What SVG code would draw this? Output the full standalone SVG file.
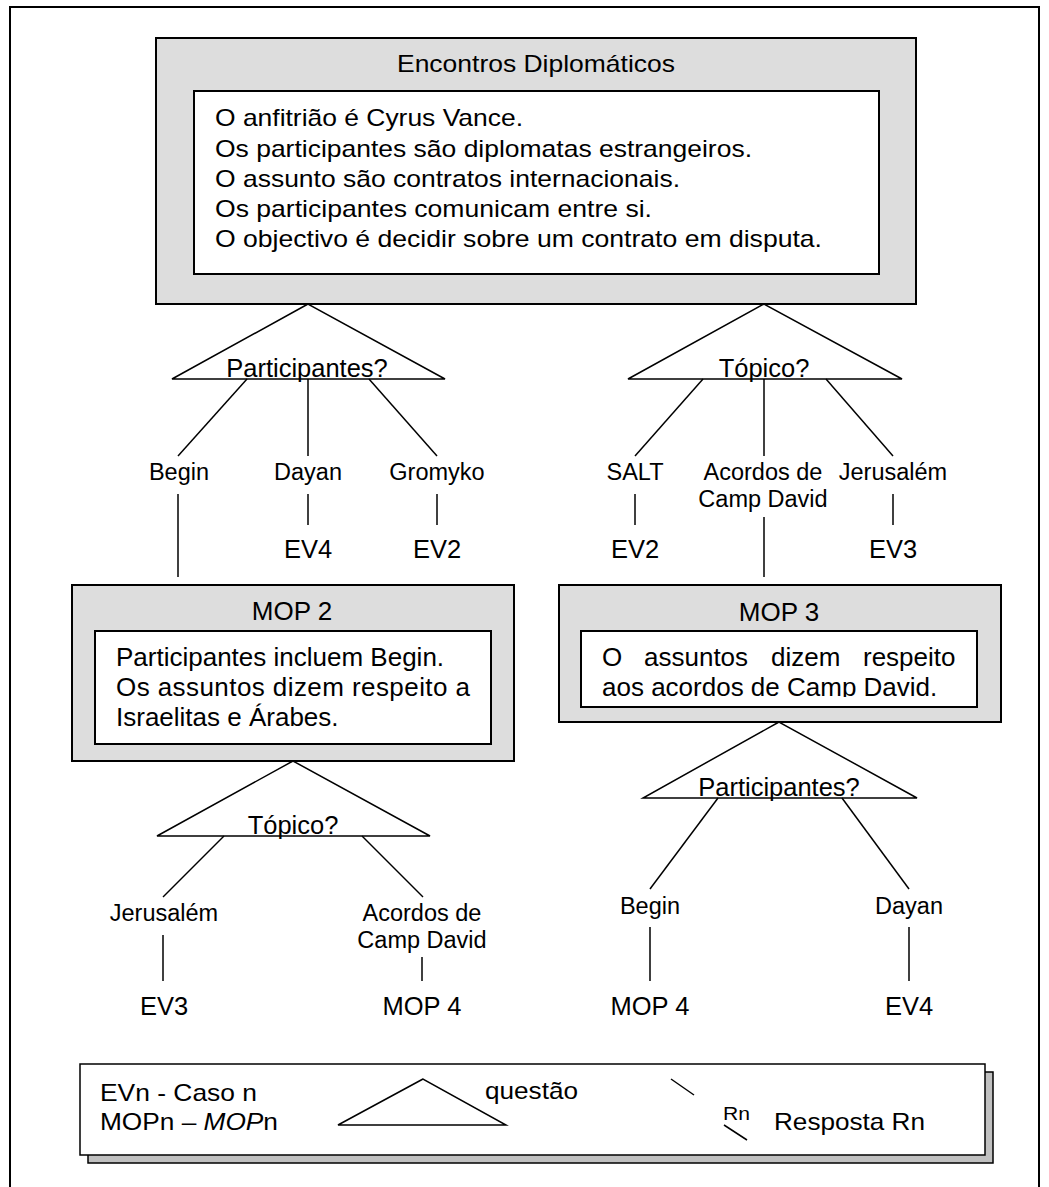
<svg xmlns="http://www.w3.org/2000/svg" width="1049" height="1187" viewBox="0 0 1049 1187">
  <style>
    text { font-family: "Liberation Sans", Arial, sans-serif; fill: #000; }
    .frame { fill: #fff; stroke: #000; stroke-width: 2; }
    .mop { fill: #dddddd; stroke: #000; stroke-width: 2; }
    .inner { fill: #fff; stroke: #000; stroke-width: 2; }
    .q { fill: #fff; stroke: #000; stroke-width: 1.5; stroke-linejoin: miter; }
    .link { stroke: #000; stroke-width: 1.5; fill: none; }
    .body { font-size: 24px; }
    .mtext { font-size: 26px; }
    .title { font-size: 26px; text-anchor: middle; }
    .qlabel { font-size: 25.5px; text-anchor: middle; }
    .ans { font-size: 23.5px; text-anchor: middle; }
    .leaf { font-size: 25.5px; text-anchor: middle; }
    .shadow { fill: #c0c0c0; stroke: #000; stroke-width: 1.5; }
  </style>
  <defs>
    <clipPath id="mop3-clip">
      <rect x="581" y="631" width="396" height="66"/>
    </clipPath>
  </defs>

  <!-- page frame -->
  <rect id="frame" class="frame" x="10" y="7" width="1029" height="1200"/>

  <!-- root MOP -->
  <g id="node-encontros">
    <rect class="mop" x="156" y="38" width="760" height="266"/>
    <text class="body" x="536" y="72" text-anchor="middle" textLength="278" lengthAdjust="spacingAndGlyphs">Encontros Diplomáticos</text>
    <rect class="inner" x="194" y="91" width="685" height="183"/>
    <text class="body" x="215" y="126" textLength="308" lengthAdjust="spacingAndGlyphs">O anfitrião é Cyrus Vance.</text>
    <text class="body" x="215" y="157" textLength="537" lengthAdjust="spacingAndGlyphs">Os participantes são diplomatas estrangeiros.</text>
    <text class="body" x="215" y="187" textLength="465" lengthAdjust="spacingAndGlyphs">O assunto são contratos internacionais.</text>
    <text class="body" x="215" y="217" textLength="437" lengthAdjust="spacingAndGlyphs">Os participantes comunicam entre si.</text>
    <text class="body" x="215" y="247" textLength="607" lengthAdjust="spacingAndGlyphs">O objectivo é decidir sobre um contrato em disputa.</text>
  </g>

  <!-- question: Participantes? (root) -->
  <g id="q-root-participantes">
    <polygon class="q" points="308,304 172,379 445,379"/>
    <text class="qlabel" x="307" y="377">Participantes?</text>
  </g>

  <!-- question: Tópico? (root) -->
  <g id="q-root-topico">
    <polygon class="q" points="764,304 628,379 902,379"/>
    <text class="qlabel" x="764" y="377">Tópico?</text>
  </g>

  <!-- answers and leaves under the root -->
  <g id="a-begin"><text class="ans" x="179" y="480">Begin</text></g>
  <g id="a-dayan"><text class="ans" x="308" y="480">Dayan</text></g>
  <g id="a-gromyko"><text class="ans" x="437" y="480">Gromyko</text></g>
  <g id="leaf-ev4-a"><text class="leaf" x="308" y="558">EV4</text></g>
  <g id="leaf-ev2-a"><text class="leaf" x="437" y="558">EV2</text></g>

  <g id="a-salt"><text class="ans" x="635" y="480">SALT</text></g>
  <g id="a-camp-david"><text class="ans" x="763" y="480">Acordos de</text><text class="ans" x="763" y="507">Camp David</text></g>
  <g id="a-jerusalem"><text class="ans" x="893" y="480">Jerusalém</text></g>
  <g id="leaf-ev2-b"><text class="leaf" x="635" y="558">EV2</text></g>
  <g id="leaf-ev3-a"><text class="leaf" x="893" y="558">EV3</text></g>

  <!-- MOP 2 -->
  <g id="node-mop2">
    <rect class="mop" x="72" y="585" width="442" height="176"/>
    <text class="title" x="292" y="620">MOP 2</text>
    <rect class="inner" x="95" y="631" width="396" height="113"/>
    <text class="mtext" x="116" y="666">Participantes incluem Begin.</text>
    <text class="mtext" x="116" y="696" textLength="354" lengthAdjust="spacing">Os assuntos dizem respeito a</text>
    <text class="mtext" x="116" y="726">Israelitas e Árabes.</text>
  </g>

  <!-- MOP 3 -->
  <g id="node-mop3">
    <rect class="mop" x="559" y="585" width="442" height="137"/>
    <text class="title" x="779" y="621">MOP 3</text>
    <rect class="inner" x="581" y="631" width="396" height="76"/>
    <g clip-path="url(#mop3-clip)">
      <text class="mtext" y="666"><tspan x="602">O</tspan><tspan x="644">assuntos</tspan><tspan x="771">dizem</tspan><tspan x="863">respeito</tspan></text>
      <text class="mtext" x="602" y="696">aos acordos de Camp David.</text>
    </g>
  </g>

  <!-- question: Tópico? (MOP 2) -->
  <g id="q-mop2-topico">
    <polygon class="q" points="293,761 157,836 430,836"/>
    <text class="qlabel" x="293" y="834">Tópico?</text>
  </g>

  <!-- question: Participantes? (MOP 3) -->
  <g id="q-mop3-participantes">
    <polygon class="q" points="779,722 643,798 917,798"/>
    <text class="qlabel" x="779" y="796">Participantes?</text>
  </g>

  <g id="a-jerusalem-2"><text class="ans" x="164" y="921">Jerusalém</text></g>
  <g id="a-camp-david-2"><text class="ans" x="422" y="921">Acordos de</text><text class="ans" x="422" y="948">Camp David</text></g>
  <g id="leaf-ev3-b"><text class="leaf" x="164" y="1015">EV3</text></g>
  <g id="leaf-mop4-a"><text class="leaf" x="422" y="1015">MOP 4</text></g>

  <g id="a-begin-2"><text class="ans" x="650" y="914">Begin</text></g>
  <g id="a-dayan-2"><text class="ans" x="909" y="914">Dayan</text></g>
  <g id="leaf-mop4-b"><text class="leaf" x="650" y="1015">MOP 4</text></g>
  <g id="leaf-ev4-b"><text class="leaf" x="909" y="1015">EV4</text></g>

  <!-- connectors -->
  <g id="connectors" class="link">
    <line x1="247" y1="379" x2="178" y2="456"/>
    <line x1="308" y1="379" x2="308" y2="456"/>
    <line x1="369" y1="379" x2="437" y2="456"/>
    <line x1="178" y1="494" x2="178" y2="577"/>
    <line x1="308" y1="494" x2="308" y2="525"/>
    <line x1="437" y1="494" x2="437" y2="525"/>

    <line x1="703" y1="379" x2="635" y2="456"/>
    <line x1="764" y1="379" x2="764" y2="456"/>
    <line x1="826" y1="379" x2="893" y2="456"/>
    <line x1="635" y1="494" x2="635" y2="525"/>
    <line x1="764" y1="517" x2="764" y2="577"/>
    <line x1="893" y1="494" x2="893" y2="525"/>

    <line x1="224" y1="836" x2="163" y2="897"/>
    <line x1="362" y1="836" x2="423" y2="897"/>
    <line x1="163" y1="935" x2="163" y2="981"/>
    <line x1="422" y1="957" x2="422" y2="981"/>

    <line x1="718" y1="798" x2="650" y2="889"/>
    <line x1="842" y1="798" x2="909" y2="889"/>
    <line x1="650" y1="927" x2="650" y2="981"/>
    <line x1="909" y1="927" x2="909" y2="981"/>
  </g>

  <!-- legend -->
  <g id="legend">
    <rect class="shadow" x="88" y="1072" width="905" height="91"/>
    <rect class="inner" x="80" y="1064" width="905" height="91" style="stroke-width:1.5"/>
    <text class="body" x="100" y="1101" textLength="157" lengthAdjust="spacingAndGlyphs">EVn - Caso n</text>
    <text class="body" x="100" y="1130" textLength="178" lengthAdjust="spacingAndGlyphs">MOPn – <tspan font-style="italic">MOP</tspan>n</text>
    <polygon class="q" points="423,1079 338,1125 506,1125"/>
    <text class="body" x="485" y="1099" textLength="93" lengthAdjust="spacingAndGlyphs">questão</text>
    <line class="link" x1="671" y1="1079" x2="694" y2="1095"/>
    <text x="723" y="1120" font-size="18" textLength="27" lengthAdjust="spacingAndGlyphs">Rn</text>
    <line class="link" x1="724" y1="1125" x2="747" y2="1140"/>
    <text class="body" x="774" y="1130" textLength="151" lengthAdjust="spacingAndGlyphs">Resposta Rn</text>
  </g>
</svg>
